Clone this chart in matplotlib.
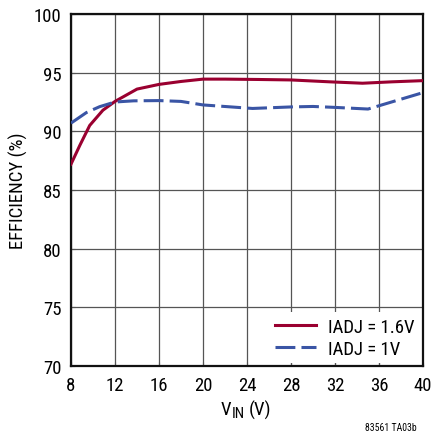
import matplotlib
matplotlib.use('Agg')
import matplotlib.pyplot as plt

# values
vin_16 = [8, 8.8, 9.7, 10.9, 12, 14, 16, 18, 20, 22, 25, 28, 31.5, 34.5, 37.2, 40]
eff_16 = [87.2, 88.8, 90.5, 91.8, 92.55, 93.6, 94.0, 94.25, 94.45, 94.45, 94.42, 94.38, 94.22, 94.1, 94.22, 94.32]

vin_1 = [8, 9.4, 10.6, 12, 13.7, 16, 18, 20, 24.5, 28, 30, 32, 35, 37.5, 40]
eff_1 = [90.7, 91.6, 92.1, 92.5, 92.6, 92.62, 92.55, 92.25, 91.95, 92.08, 92.12, 92.04, 91.9, 92.6, 93.3]

x_ticks = [8, 12, 16, 20, 24, 28, 32, 36, 40]
y_ticks = [70, 75, 80, 85, 90, 95, 100]

plt.rcParams['font.family'] = ['Roboto Condensed', 'DejaVu Sans']

fig = plt.figure(figsize=(4.32, 4.35), dpi=100)
ax = fig.add_axes([71 / 432, 1 - 367 / 435, 352 / 432, 352 / 435])

ax.plot(vin_16, eff_16, color='#9a0030', lw=2.2, label='IADJ = 1.6V', zorder=3)
ax.plot(vin_1, eff_1, color='#3a55a5', lw=2.2, dashes=(6.5, 2.0), label='IADJ = 1V', zorder=3)

ax.set_xlim(8, 40)
ax.set_ylim(70, 100)
ax.set_xticks(x_ticks)
ax.set_yticks(y_ticks)
ax.tick_params(labelsize=13.5, length=3, direction='in', color='#555555', pad=7)
ax.grid(True, color='#555555', lw=0.9)
for s in ax.spines.values():
    s.set_linewidth(1.6)
    s.set_color('#111111')

# x label with a full-size-ish subscript, as in the original
fig.text(221 / 432, 1 - 410 / 435, 'V', fontsize=13.5, ha='left', va='center')
fig.text(232 / 432, 1 - 414 / 435, 'IN', fontsize=11, ha='left', va='center')
fig.text(249 / 432, 1 - 410 / 435, '(V)', fontsize=13.5, ha='left', va='center')
fig.text(18 / 432, 1 - 191 / 435, 'EFFICIENCY (%)', fontsize=13.5, rotation=90,
         ha='center', va='center')

leg = ax.legend(loc='lower right', frameon=True, fontsize=13.5, handlelength=2.2,
                handletextpad=0.65, borderpad=0.3, labelspacing=0.2,
                fancybox=False, borderaxespad=0.15)
leg.get_frame().set_edgecolor('none')
leg.get_frame().set_alpha(1.0)

fig.text(417 / 432, 1 - 428 / 435, '83561 TA03b', fontsize=7, ha='right', va='center')

fig.savefig('out.png', dpi=100)
